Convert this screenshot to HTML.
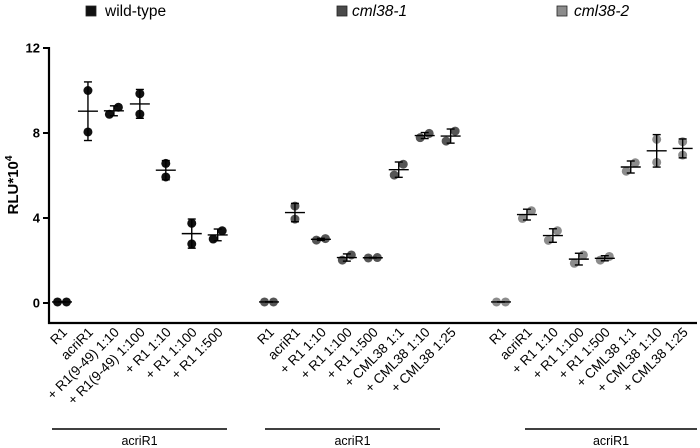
<!DOCTYPE html>
<html><head><meta charset="utf-8"><style>body{margin:0;background:#fff}svg{display:block;font-family:"Liberation Sans",Arial,sans-serif}</style></head>
<body>
<svg id="chart" width="700" height="448" viewBox="0 0 700 448"></svg>
<script>
const categories1 = ["R1","acriR1","+ R1(9-49) 1:10","+ R1(9-49) 1:100","+ R1 1:10","+ R1 1:100","+ R1 1:500"];
const categories2 = ["R1","acriR1","+ R1 1:10","+ R1 1:100","+ R1 1:500","+ CML38 1:1","+ CML38 1:10","+ CML38 1:25"];
const wtRep1 = [0.05,10.0,8.88,9.85,6.57,3.75,3.01];
const wtRep2 = [0.05,8.05,9.21,8.89,5.93,2.78,3.40];
const c1Rep1 = [0.05,4.56,2.96,2.02,2.12,6.02,7.78,7.62];
const c1Rep2 = [0.05,3.95,3.03,2.26,2.14,6.53,7.98,8.09];
const c2Rep1 = [0.05,3.98,2.95,1.87,2.02,6.20,6.62,6.96];
const c2Rep2 = [0.05,4.34,3.40,2.26,2.19,6.60,7.70,7.59];
const yTicks = [0,4,8,12];

const NS="http://www.w3.org/2000/svg", svg=document.getElementById('chart');
function mk(t,a,p){const e=document.createElementNS(NS,t);for(const k in a)e.setAttribute(k,a[k]);(p||svg).appendChild(e);return e;}
const y = v => 303 - v*21.25;
const ax=mk('line',{x1:49,y1:47,x2:49,y2:324,stroke:'#000','stroke-width':2.2});


const xa=mk('line',{x1:48,y1:323,x2:697,y2:323,stroke:'#000','stroke-width':2.2});


yTicks.forEach(t=>{
  const l=mk('line',{x1:43,y1:y(t),x2:49,y2:y(t),stroke:'#000','stroke-width':2});
  
  
  const tx=mk('text',{x:40,y:y(t)+4.5,'text-anchor':'end','font-size':13,'font-weight':'bold'});tx.textContent=t;
  
  
});
const yt=mk('text',{transform:'translate(18,185) rotate(-90)','text-anchor':'middle','font-size':15,'font-weight':'bold'});
yt.innerHTML='RLU*10<tspan dy="-6" font-size="10">4</tspan>';


[[86,105,'#111','wild-type',false],[337,352,'#4a4a4a','cml38-1',true],[557,574,'#8c8c8c','cml38-2',true]].forEach(d=>{
  const r=mk('rect',{x:d[0],y:6,width:10,height:10,fill:d[2],stroke:'#222','stroke-width':0.8});
  
  
  const t=mk('text',{x:d[1],y:16,'font-size':15.5,'font-style':d[4]?'italic':'normal'});t.textContent=d[3];
  
  
});
function group(cats,r1,r2,x0,color,gx1,gx2,name){
  cats.forEach((c,i)=>{
    const cx=x0+i*25.95, a=r1[i], b=r2[i], m=(a+b)/2, sd=Math.abs(a-b)/Math.SQRT2;
    const off = Math.abs(y(a)-y(b)) > 12 ? 0 : 4.5;
    const g=mk('g',{});
    
    
    const d1=mk('circle',{cx:cx-off,cy:y(a),r:4.5,fill:color},g);
    
    
    const d2=mk('circle',{cx:cx+off,cy:y(b),r:4.5,fill:color},g);
    
    
    const st={stroke:'#000','stroke-width':1.4};
    mk('line',Object.assign({x1:cx,y1:y(m+sd),x2:cx,y2:y(m-sd)},st),g);
    mk('line',Object.assign({x1:cx-4,y1:y(m+sd),x2:cx+4,y2:y(m+sd)},st),g);
    mk('line',Object.assign({x1:cx-4,y1:y(m-sd),x2:cx+4,y2:y(m-sd)},st),g);
    const ml=mk('line',Object.assign({x1:cx-10,y1:y(m),x2:cx+10,y2:y(m)},st),g);
    
    
    const t=mk('text',{transform:`translate(${cx+6},333) rotate(-45)`,'text-anchor':'end','font-size':13.5});t.textContent=c;
    
    
  });
  const gl=mk('line',{x1:gx1,y1:429,x2:gx2,y2:429,stroke:'#000','stroke-width':1.5});
  
  
  const gt=mk('text',{x:(gx1+gx2)/2,y:445,'text-anchor':'middle','font-size':12.5});gt.textContent='acriR1';
  
  
}
group(categories1,wtRep1,wtRep2,62,'#111',52,227,'wild-type');
group(categories2,c1Rep1,c1Rep2,269,'#555',265,440,'cml38-1');
group(categories2,c2Rep1,c2Rep2,501,'#8c8c8c',525,697,'cml38-2');
</script>
</body></html>
